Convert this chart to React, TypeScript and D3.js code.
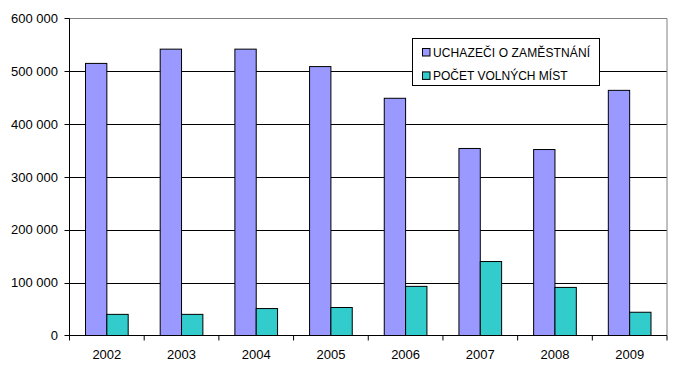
import React from "react";
import * as d3 from "d3";

const years = ["2002", "2003", "2004", "2005", "2006", "2007", "2008", "2009"];
const uchazeci = [515000, 542000, 542000, 509000, 449000, 354000, 352000, 464000];
const volnaMista = [40000, 40000, 51000, 53000, 93000, 140000, 91000, 44000];
const seriesNames = ["UCHAZEČI O ZAMĚSTNÁNÍ", "POČET VOLNÝCH MÍST"];
const seriesColors = ["#9999ff", "#33cccc"];
const yTicks = [0, 100000, 200000, 300000, 400000, 500000, 600000];

const W = 681;
const H = 370;
const m = { left: 69.5, right: 667, top: 18.5, bottom: 335.5 };
const font = "'Liberation Sans', Arial, sans-serif";

// "600 000" style labels
const fmt = (v: number) => d3.format(",")(v).replace(/,/g, " ");

export default function App() {
  const x = d3.scaleBand().domain(years).range([m.left, m.right]).paddingInner(0).paddingOuter(0);
  const y = d3.scaleLinear().domain([0, 600000]).range([m.bottom, m.top]);
  // gap width ~150% of one bar
  const inner = d3.scaleBand().domain(["0", "1"]).range([0, x.bandwidth()]).paddingOuter(0.75).paddingInner(0);

  const series = [uchazeci, volnaMista];

  return (
    <svg width={W} height={H} style={{ position: "absolute", left: 0, top: 0, background: "#fff" }} fontFamily={font}>
      {/* gridlines */}
      {yTicks.slice(1, -1).map((t) => (
        <line key={t} x1={m.left - 5} x2={m.right} y1={Math.round(y(t)) + 0.5} y2={Math.round(y(t)) + 0.5} stroke="#000" strokeWidth={1} />
      ))}
      {/* plot border top/right */}
      <line x1={m.left} x2={m.right} y1={m.top} y2={m.top} stroke="#808080" />
      <line x1={m.right} x2={m.right} y1={m.top} y2={m.bottom} stroke="#808080" />
      <line x1={m.left - 5} x2={m.left} y1={m.top} y2={m.top} stroke="#000" />

      {/* bars */}
      {series.map((vals, si) =>
        vals.map((v, i) => {
          const bx = x(years[i])! + inner(String(si))!;
          return (
            <rect key={`${si}-${i}`} x={bx} y={y(v)} width={inner.bandwidth()} height={y(0) - y(v)}
              fill={seriesColors[si]} stroke="#000" strokeWidth={1} />
          );
        })
      )}

      {/* axes */}
      <line x1={m.left} x2={m.left} y1={m.top} y2={m.bottom} stroke="#000" />
      <line x1={m.left - 5} x2={m.right} y1={m.bottom} y2={m.bottom} stroke="#000" />
      {years.concat(["end"]).map((yr, i) => {
        const tx = i < years.length ? x(yr)! : m.right;
        return <line key={yr} x1={tx} x2={tx} y1={m.bottom} y2={m.bottom + 5} stroke="#000" />;
      })}
      {yTicks.map((t) => (
        <text key={t} x={58} y={y(t) + 4.5} textAnchor="end" fontSize={13} fill="#000">
          {fmt(t)}
        </text>
      ))}
      {years.map((yr) => (
        <text key={yr} x={x(yr)! + x.bandwidth() / 2} y={358.5} textAnchor="middle" fontSize={13} fill="#000">
          {yr}
        </text>
      ))}

      {/* legend */}
      <rect x={412.5} y={38.5} width={187} height={47} fill="#fff" stroke="#000" />
      {seriesNames.map((name, i) => (
        <g key={name}>
          <rect x={422.5} y={48.5 + i * 23.4} width={7.5} height={7.5} fill={seriesColors[i]} stroke="#000" />
          <text x={433} y={56.5 + i * 23.4} fontSize={12} fill="#000" textLength={i === 0 ? 157 : undefined}>
            {name}
          </text>
        </g>
      ))}
    </svg>
  );
}
